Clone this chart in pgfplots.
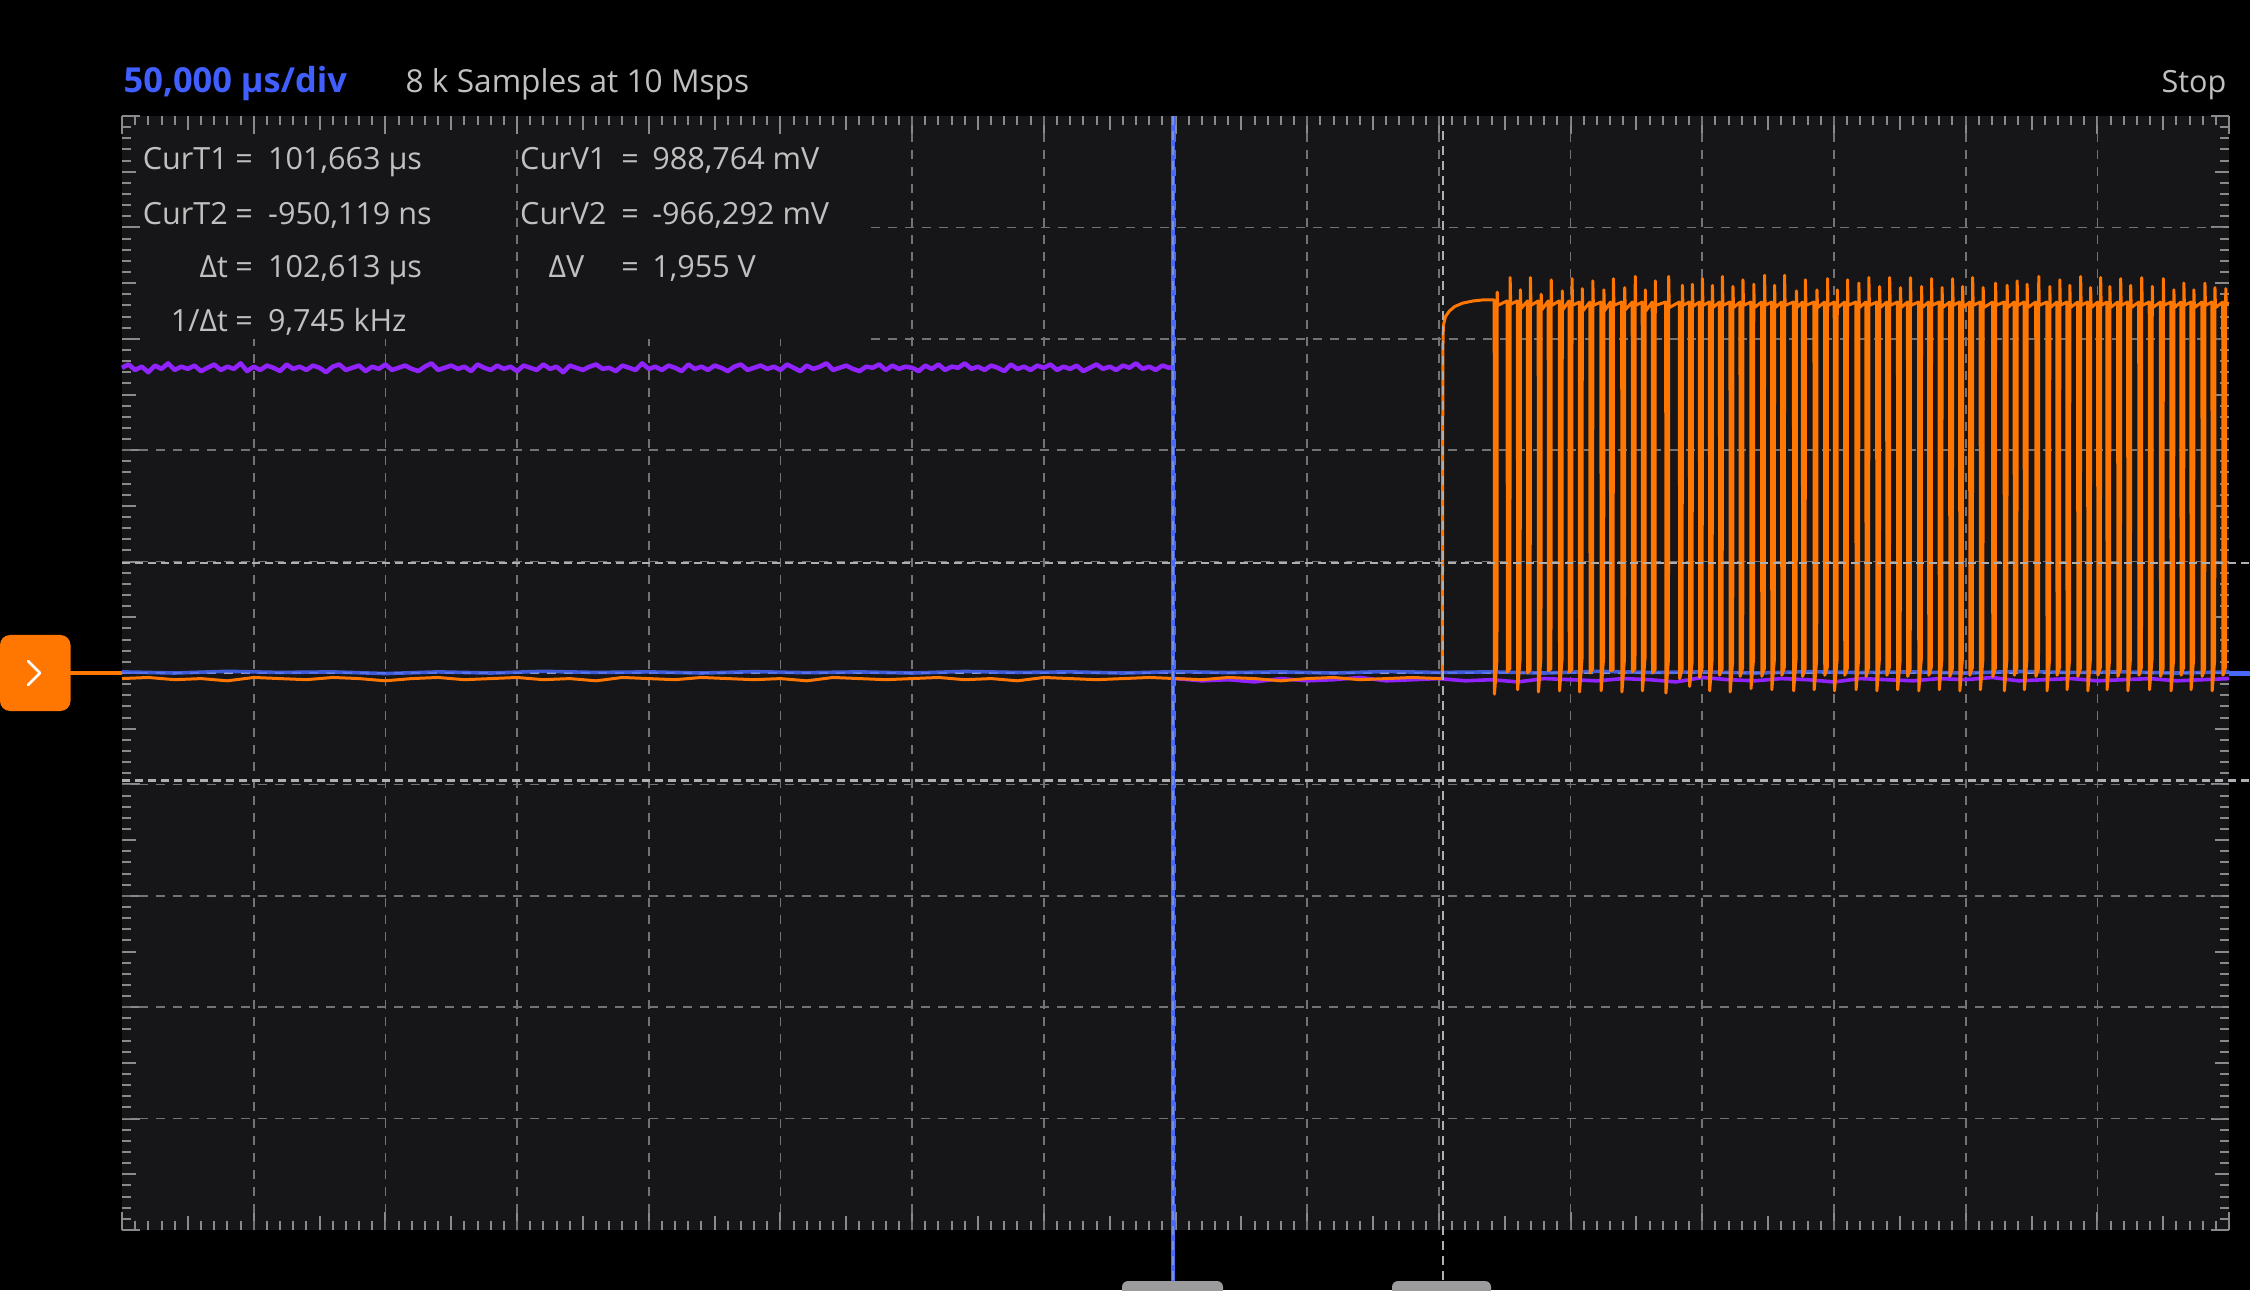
\documentclass[border=0pt]{standalone}
\usepackage{pgfplots}
\pgfplotsset{compat=1.18}
\usepackage{fontspec}
\setmainfont{Open Sans}
\definecolor{plotbg}{RGB}{22,22,24}
\definecolor{gridc}{RGB}{115,115,117}
\definecolor{tickc}{RGB}{138,138,140}
\definecolor{curc}{RGB}{175,175,177}
\definecolor{txtc}{RGB}{192,192,192}
\definecolor{tblue}{RGB}{65,95,255}
\definecolor{chblue}{RGB}{72,105,250}
\definecolor{chpurple}{RGB}{145,35,255}
\definecolor{chorange}{RGB}{255,118,0}
\definecolor{handlec}{RGB}{155,155,158}
\tikzset{gridline/.style={gridc, line width=0.017cm, dash pattern=on 0.09cm off 0.08cm}}
\newcommand{\bodyfont}{\fontsize{8.7pt}{10pt}\selectfont}
\begin{document}
\begin{tikzpicture}[x=1cm,y=1cm]
\useasboundingbox (0,0) rectangle (22.5,12.9);
\clip (0,0) rectangle (22.5,12.9);
\fill[black] (0,0) rectangle (22.5,12.9);
\begin{axis}[
  at={(1.22cm,0.60cm)}, anchor=south west,
  scale only axis, width=21.07cm, height=11.14cm,
  xmin=-400, xmax=400, ymin=-5, ymax=5,
  xtick={-400,-350,...,400}, ytick={-5,-4,...,5},
  minor x tick num=9, minor y tick num=9,
  extra x ticks={-375,-325,...,375}, extra y ticks={-4.5,-3.5,...,4.5},
  extra tick style={major tick length=0.14cm},
  major tick length=0.18cm, minor tick length=0.09cm,
  xticklabels={}, yticklabels={}, extra x tick labels={}, extra y tick labels={},
  tick align=inside, tick pos=both,
  every tick/.style={draw=tickc, line width=0.02cm},
  axis line style={draw=none},
  axis background/.style={fill=plotbg},
  clip=false,
]
% grid (hidden under the readout boxes in the top left)
\draw[gridline] (axis cs:-350,-5) -- (axis cs:-350,3);
\draw[gridline] (axis cs:-300,-5) -- (axis cs:-300,3);
\draw[gridline] (axis cs:-250,-5) -- (axis cs:-250,4.75);
\draw[gridline] (axis cs:-200,-5) -- (axis cs:-200,3);
\draw[gridline] (axis cs:-150,-5) -- (axis cs:-150,3);
\draw[gridline] (axis cs:-100,-5) -- (axis cs:-100,5);
\draw[gridline] (axis cs:-50,-5) -- (axis cs:-50,5);
\draw[gridline] (axis cs:0,-5) -- (axis cs:0,5);
\draw[gridline] (axis cs:50,-5) -- (axis cs:50,5);
\draw[gridline] (axis cs:100,-5) -- (axis cs:100,5);
\draw[gridline] (axis cs:150,-5) -- (axis cs:150,5);
\draw[gridline] (axis cs:200,-5) -- (axis cs:200,5);
\draw[gridline] (axis cs:250,-5) -- (axis cs:250,5);
\draw[gridline] (axis cs:300,-5) -- (axis cs:300,5);
\draw[gridline] (axis cs:350,-5) -- (axis cs:350,5);
\draw[gridline] (axis cs:-115.6,4) -- (axis cs:400,4);
\draw[gridline] (axis cs:-115.6,3) -- (axis cs:400,3);
\draw[gridline] (axis cs:-400,2) -- (axis cs:400,2);
\draw[gridline] (axis cs:-400,1) -- (axis cs:400,1);
\draw[gridline, curc] (axis cs:-400,0) -- (axis cs:400,0);
\draw[gridline] (axis cs:-400,-1) -- (axis cs:400,-1);
\draw[gridline] (axis cs:-400,-2) -- (axis cs:400,-2);
\draw[gridline] (axis cs:-400,-3) -- (axis cs:400,-3);
\draw[gridline] (axis cs:-400,-4) -- (axis cs:400,-4);
% blue channel
\addplot[chblue, line width=0.036cm, opacity=0.85, line join=round] coordinates {
(-400,0.01)(-380,0.0)(-360,0.015)(-340,0.005)(-320,0.01)(-300,-0.005)(-280,0.01)(-260,0.0)(-240,0.015)(-220,0.005)
(-200,0.01)(-180,0.0)(-160,0.012)(-140,0.003)(-120,0.01)(-100,0.0)(-80,0.014)(-60,0.005)(-40,0.01)(-20,0.0)
(0,0.012)(20,0.004)(40,0.01)(60,0.0)(80,0.013)(100,0.005)(120,0.01)(140,0.0)(160,0.015)(180,0.005)
(200,0.01)(220,0.0)(240,0.012)(260,0.004)(280,0.01)(300,0.0)(320,0.014)(340,0.005)(360,0.01)(380,0.0)(400,0.01)
};
% purple channel, high part
\addplot[chpurple, line width=0.045cm, line join=round] coordinates {
(-400,2.74)(-397.5,2.77)(-395,2.72)(-392.5,2.75)(-390,2.70)(-387.5,2.76)(-385,2.73)(-382.5,2.78)
(-380,2.72)(-377.5,2.75)(-375,2.73)(-372.5,2.76)(-370,2.71)(-367.5,2.74)(-365,2.77)(-362.5,2.72)
(-360,2.75)(-357.5,2.73)(-355,2.78)(-352.5,2.71)(-350,2.75)(-347.5,2.72)(-345,2.76)(-342.5,2.74)
(-340,2.71)(-337.5,2.77)(-335,2.73)(-332.5,2.75)(-330,2.72)(-327.5,2.76)(-325,2.74)(-322.5,2.70)
(-320,2.75)(-317.5,2.77)(-315,2.72)(-312.5,2.74)(-310,2.76)(-307.5,2.71)(-305,2.75)(-302.5,2.73)
(-300,2.77)(-297.5,2.72)(-295,2.74)(-292.5,2.76)(-290,2.73)(-287.5,2.71)(-285,2.75)(-282.5,2.78)
(-280,2.72)(-277.5,2.74)(-275,2.76)(-272.5,2.73)(-270,2.75)(-267.5,2.71)(-265,2.77)(-262.5,2.74)
(-260,2.72)(-257.5,2.76)(-255,2.73)(-252.5,2.75)(-250,2.71)(-247.5,2.76)(-245,2.74)(-242.5,2.72)
(-240,2.77)(-237.5,2.73)(-235,2.75)(-232.5,2.70)(-230,2.76)(-227.5,2.74)(-225,2.72)(-222.5,2.75)
(-220,2.77)(-217.5,2.73)(-215,2.74)(-212.5,2.71)(-210,2.76)(-207.5,2.74)(-205,2.72)(-202.5,2.78)
(-200,2.73)(-197.5,2.75)(-195,2.72)(-192.5,2.76)(-190,2.74)(-187.5,2.71)(-185,2.77)(-182.5,2.73)
(-180,2.75)(-177.5,2.72)(-175,2.76)(-172.5,2.74)(-170,2.71)(-167.5,2.75)(-165,2.77)(-162.5,2.72)
(-160,2.74)(-157.5,2.76)(-155,2.73)(-152.5,2.75)(-150,2.72)(-147.5,2.77)(-145,2.74)(-142.5,2.71)
(-140,2.76)(-137.5,2.73)(-135,2.75)(-132.5,2.78)(-130,2.72)(-127.5,2.74)(-125,2.76)(-122.5,2.73)
(-120,2.71)(-117.5,2.75)(-115,2.74)(-112.5,2.77)(-110,2.72)(-107.5,2.76)(-105,2.73)(-102.5,2.75)
(-100,2.74)(-97.5,2.71)(-95,2.76)(-92.5,2.73)(-90,2.77)(-87.5,2.72)(-85,2.75)(-82.5,2.74)
(-80,2.78)(-77.5,2.73)(-75,2.75)(-72.5,2.72)(-70,2.76)(-67.5,2.74)(-65,2.71)(-62.5,2.77)
(-60,2.73)(-57.5,2.75)(-55,2.72)(-52.5,2.76)(-50,2.74)(-47.5,2.77)(-45,2.72)(-42.5,2.75)
(-40,2.73)(-37.5,2.76)(-35,2.71)(-32.5,2.74)(-30,2.77)(-27.5,2.73)(-25,2.75)(-22.5,2.72)
(-20,2.76)(-17.5,2.74)(-15,2.78)(-12.5,2.73)(-10,2.75)(-7.5,2.72)(-5,2.76)(-2.5,2.74)(-0.95,2.75)
};
% purple channel, low part
\addplot[chpurple, line width=0.036cm, line join=round] coordinates {
(-0.95,-0.06)
(0,-0.05)(10,-0.07)(20,-0.06)(30,-0.08)(40,-0.05)(50,-0.07)(60,-0.06)(70,-0.04)(80,-0.07)(90,-0.06)
(100,-0.05)(110,-0.07)(120,-0.06)(130,-0.08)(140,-0.05)(150,-0.06)(160,-0.07)(170,-0.05)(180,-0.06)(190,-0.08)
(200,-0.04)(210,-0.06)(220,-0.07)(230,-0.05)(240,-0.06)(250,-0.08)(260,-0.05)(270,-0.06)(280,-0.07)(290,-0.05)
(300,-0.06)(310,-0.04)(320,-0.07)(330,-0.06)(340,-0.05)(350,-0.07)(360,-0.06)(370,-0.05)(380,-0.07)(390,-0.06)(400,-0.05)
};
% orange channel
\addplot[chorange, line width=0.03cm, line join=round] coordinates {
(-400,-0.05)(-390,-0.04)(-380,-0.06)(-370,-0.05)(-360,-0.07)(-350,-0.04)(-340,-0.05)(-330,-0.06)(-320,-0.04)(-310,-0.05)
(-300,-0.07)(-290,-0.05)(-280,-0.04)(-270,-0.06)(-260,-0.05)(-250,-0.04)(-240,-0.06)(-230,-0.05)(-220,-0.07)(-210,-0.04)
(-200,-0.05)(-190,-0.06)(-180,-0.04)(-170,-0.05)(-160,-0.06)(-150,-0.05)(-140,-0.07)(-130,-0.04)(-120,-0.05)(-110,-0.06)
(-100,-0.05)(-90,-0.04)(-80,-0.06)(-70,-0.05)(-60,-0.07)(-50,-0.04)(-40,-0.05)(-30,-0.06)(-20,-0.05)(-10,-0.04)
(0,-0.05)(10,-0.06)(20,-0.04)(30,-0.05)(40,-0.07)(50,-0.05)(60,-0.04)(70,-0.06)(80,-0.05)(90,-0.04)(100,-0.05)(101.3,-0.05)
(101.5,2.90)(101.7,3.12)(102.5,3.20)(104,3.25)(106,3.29)(109,3.32)(113,3.34)(117,3.35)(120.8,3.35)
(121.0,3.35)(121.1,-0.19)(122.05,0.12)(122.15,3.42)(122.35,3.30)
(125.9,3.34)(126.0,0.01)(126.95,0.04)(127.05,3.55)(127.25,3.31)
(129.8,3.34)(129.9,-0.15)(130.85,0.13)(130.95,3.44)(131.15,3.27)
(133.6,3.34)(133.7,0.0)(134.65,0.03)(134.75,3.55)(134.95,3.30)
(137.7,3.34)(137.8,-0.17)(138.75,0.14)(138.85,3.40)(139.05,3.26)
(141.5,3.34)(141.6,0.02)(142.55,0.04)(142.65,3.53)(142.85,3.30)
(145.7,3.34)(145.8,-0.16)(146.75,0.12)(146.85,3.43)(147.05,3.26)
(149.4,3.34)(149.5,0.01)(150.45,0.03)(150.55,3.54)(150.75,3.30)
(153.3,3.33)(153.4,-0.17)(154.35,0.13)(154.45,3.45)(154.65,3.25)
(157.3,3.33)(157.4,0.0)(158.35,0.04)(158.45,3.52)(158.65,3.30)
(161.5,3.33)(161.6,-0.16)(162.55,0.14)(162.65,3.44)(162.85,3.25)
(165.1,3.33)(165.2,0.02)(166.15,0.03)(166.25,3.54)(166.45,3.30)
(169.4,3.33)(169.5,-0.17)(170.45,0.12)(170.55,3.46)(170.75,3.26)
(173.4,3.33)(173.5,0.01)(174.45,0.04)(174.55,3.56)(174.75,3.30)
(177.2,3.33)(177.3,-0.16)(178.25,0.13)(178.35,3.44)(178.55,3.25)
(181.0,3.33)(181.1,0.0)(182.05,0.03)(182.15,3.52)(182.35,3.30)
(186.1,3.33)(186.2,-0.18)(187.15,0.12)(187.25,3.56)(187.45,3.28)
(191.3,3.33)(191.4,-0.05)(192.35,0.04)(192.45,3.48)(192.65,3.30)
(195.1,3.33)(195.2,-0.12)(196.15,0.10)(196.25,3.49)(196.45,3.29)
(198.9,3.33)(199.0,-0.04)(199.95,0.05)(200.05,3.54)(200.25,3.30)
(202.7,3.33)(202.8,-0.16)(203.75,0.12)(203.85,3.48)(204.05,3.28)
(206.5,3.33)(206.6,-0.02)(207.55,0.04)(207.65,3.56)(207.85,3.30)
(210.5,3.33)(210.6,-0.17)(211.55,0.11)(211.65,3.47)(211.85,3.28)
(214.3,3.33)(214.4,-0.03)(215.35,0.05)(215.45,3.53)(215.65,3.30)
(218.4,3.33)(218.5,-0.14)(219.45,0.12)(219.55,3.49)(219.75,3.28)
(222.5,3.33)(222.6,-0.03)(223.55,0.04)(223.65,3.57)(223.85,3.30)
(226.3,3.33)(226.4,-0.15)(227.35,0.11)(227.45,3.48)(227.65,3.28)
(230.1,3.33)(230.2,-0.02)(231.15,0.05)(231.25,3.57)(231.45,3.30)
(234.6,3.33)(234.7,-0.16)(235.65,0.14)(235.75,3.43)(235.95,3.28)
(238.0,3.33)(238.1,-0.03)(239.05,0.04)(239.15,3.53)(239.35,3.30)
(242.4,3.33)(242.5,-0.15)(243.45,0.12)(243.55,3.44)(243.75,3.28)
(246.4,3.33)(246.5,-0.02)(247.45,0.05)(247.55,3.54)(247.75,3.30)
(250.1,3.33)(250.2,-0.16)(251.15,0.11)(251.25,3.44)(251.45,3.28)
(254.0,3.33)(254.1,-0.02)(255.05,0.04)(255.15,3.53)(255.35,3.30)
(258.3,3.33)(258.4,-0.15)(259.35,0.12)(259.45,3.50)(259.65,3.28)
(262.1,3.33)(262.2,-0.03)(263.15,0.05)(263.25,3.55)(263.45,3.30)
(266.2,3.33)(266.3,-0.16)(267.25,0.12)(267.35,3.47)(267.55,3.28)
(270.0,3.33)(270.1,-0.02)(271.05,0.05)(271.15,3.55)(271.35,3.30)
(274.1,3.33)(274.2,-0.15)(275.15,0.12)(275.25,3.46)(275.45,3.28)
(277.9,3.33)(278.0,-0.03)(278.95,0.04)(279.05,3.55)(279.25,3.30)
(282.1,3.33)(282.2,-0.16)(283.15,0.12)(283.25,3.47)(283.45,3.28)
(285.9,3.33)(286.0,-0.02)(286.95,0.05)(287.05,3.54)(287.25,3.30)
(289.9,3.33)(290.0,-0.15)(290.95,0.12)(291.05,3.46)(291.25,3.28)
(293.9,3.33)(294.0,-0.03)(294.95,0.04)(295.05,3.54)(295.25,3.30)
(297.7,3.33)(297.8,-0.16)(298.75,0.12)(298.85,3.47)(299.05,3.28)
(301.5,3.33)(301.6,-0.02)(302.55,0.05)(302.65,3.55)(302.85,3.30)
(305.5,3.33)(305.6,-0.15)(306.55,0.12)(306.65,3.46)(306.85,3.28)
(310.2,3.33)(310.3,-0.03)(311.25,0.04)(311.35,3.50)(311.55,3.30)
(314.6,3.33)(314.7,-0.16)(315.65,0.12)(315.75,3.48)(315.95,3.28)
(318.4,3.33)(318.5,-0.02)(319.45,0.05)(319.55,3.52)(319.75,3.30)
(322.2,3.33)(322.3,-0.15)(323.25,0.12)(323.35,3.49)(323.55,3.28)
(326.6,3.33)(326.7,-0.03)(327.65,0.04)(327.75,3.56)(327.95,3.30)
(330.8,3.33)(330.9,-0.16)(331.85,0.12)(331.95,3.47)(332.15,3.28)
(334.6,3.33)(334.7,-0.02)(335.65,0.05)(335.75,3.53)(335.95,3.30)
(338.4,3.33)(338.5,-0.15)(339.45,0.12)(339.55,3.48)(339.75,3.28)
(342.5,3.33)(342.6,-0.03)(343.55,0.04)(343.65,3.56)(343.85,3.30)
(346.3,3.33)(346.4,-0.16)(347.35,0.12)(347.45,3.46)(347.65,3.28)
(350.1,3.33)(350.2,-0.02)(351.15,0.05)(351.25,3.55)(351.45,3.30)
(353.6,3.33)(353.7,-0.15)(354.65,0.12)(354.75,3.47)(354.95,3.28)
(357.7,3.33)(357.8,-0.03)(358.75,0.04)(358.85,3.54)(359.05,3.30)
(361.5,3.33)(361.6,-0.16)(362.55,0.12)(362.65,3.48)(362.85,3.28)
(365.7,3.33)(365.8,-0.02)(366.75,0.05)(366.85,3.55)(367.05,3.30)
(369.7,3.33)(369.8,-0.15)(370.75,0.12)(370.85,3.47)(371.05,3.28)
(373.9,3.33)(374.0,-0.03)(374.95,0.04)(375.05,3.54)(375.25,3.30)
(377.9,3.33)(378.0,-0.16)(378.95,0.12)(379.05,3.44)(379.25,3.28)
(381.7,3.33)(381.8,-0.02)(382.75,0.05)(382.85,3.50)(383.05,3.30)
(385.5,3.33)(385.6,-0.15)(386.55,0.12)(386.65,3.44)(386.85,3.28)
(389.7,3.33)(389.8,-0.03)(390.75,0.04)(390.85,3.50)(391.05,3.30)
(393.5,3.33)(393.6,-0.16)(394.55,0.12)(394.65,3.46)(394.85,3.28)
(397.6,3.33)(397.7,-0.02)(398.65,0.05)(398.75,3.45)(398.95,3.30)
(399.7,3.33)
};
% cursors
\draw[chblue, line width=0.032cm] (axis cs:-0.95,5) -- (axis cs:-0.95,-5.7);
\draw[curc, line width=0.014cm, dash pattern=on 0.09cm off 0.06cm, opacity=0.55] (axis cs:-0.95,5) -- (axis cs:-0.95,-5.7);
\draw[curc, line width=0.018cm, dash pattern=on 0.09cm off 0.06cm] (axis cs:101.663,5) -- (axis cs:101.663,-5.7);
\draw[curc, line width=0.026cm, dash pattern=on 0.08cm off 0.05cm] (axis cs:-400,0.989) -- (axis cs:410,0.989);
\draw[curc, line width=0.026cm, dash pattern=on 0.08cm off 0.05cm] (axis cs:-400,-0.966) -- (axis cs:410,-0.966);
\end{axis}
% channel marker and trigger line
\fill[chorange, rounded corners=0.1cm] (0,5.79) rectangle (0.705,6.55);
\draw[white, line width=0.025cm, line cap=round, line join=round] (0.28,6.29) -- (0.40,6.17) -- (0.28,6.05);
\draw[chorange, line width=0.042cm] (0.70,6.17) -- (1.22,6.17);
\draw[chblue, line width=0.05cm] (22.29,6.17) -- (22.5,6.17);
% cursor handles
\fill[handlec, rounded corners=0.06cm] (11.22,-0.2) rectangle (12.23,0.09);
\fill[handlec, rounded corners=0.06cm] (13.92,-0.2) rectangle (14.91,0.09);
% header texts
\node[anchor=base west, inner sep=0, text=tblue, font=\bfseries\fontsize{9.8pt}{11pt}\selectfont] at (1.23,11.97) {50,000 µs/div};
\node[anchor=base west, inner sep=0, text=txtc, font=\fontsize{9.0pt}{11pt}\selectfont] at (4.05,11.97) {8 k Samples at 10 Msps};
\node[anchor=base east, inner sep=0, text=txtc, font=\bodyfont] at (22.27,11.97) {Stop};
% cursor readouts
\begin{scope}[every node/.style={inner sep=0, text=txtc, font=\bodyfont}]
\node[anchor=base east] at (2.285,11.20) {CurT1};
\node[anchor=base east] at (2.285,10.655) {CurT2};
\node[anchor=base east] at (2.285,10.12) {Δt};
\node[anchor=base east] at (2.285,9.58) {1/Δt};
\node[anchor=base] at (2.44,11.20) {=};
\node[anchor=base] at (2.44,10.655) {=};
\node[anchor=base] at (2.44,10.12) {=};
\node[anchor=base] at (2.44,9.58) {=};
\node[anchor=base west] at (2.675,11.20) {101,663 µs};
\node[anchor=base west] at (2.675,10.655) {-950,119 ns};
\node[anchor=base west] at (2.675,10.12) {102,613 µs};
\node[anchor=base west] at (2.675,9.58) {9,745 kHz};
\node[anchor=base west] at (5.195,11.20) {CurV1};
\node[anchor=base west] at (5.195,10.655) {CurV2};
\node[anchor=base west] at (5.48,10.12) {ΔV};
\node[anchor=base] at (6.30,11.20) {=};
\node[anchor=base] at (6.30,10.655) {=};
\node[anchor=base] at (6.30,10.12) {=};
\node[anchor=base west] at (6.516,11.20) {988,764 mV};
\node[anchor=base west] at (6.516,10.655) {-966,292 mV};
\node[anchor=base west] at (6.516,10.12) {1,955 V};
\end{scope}
\end{tikzpicture}
\end{document}
